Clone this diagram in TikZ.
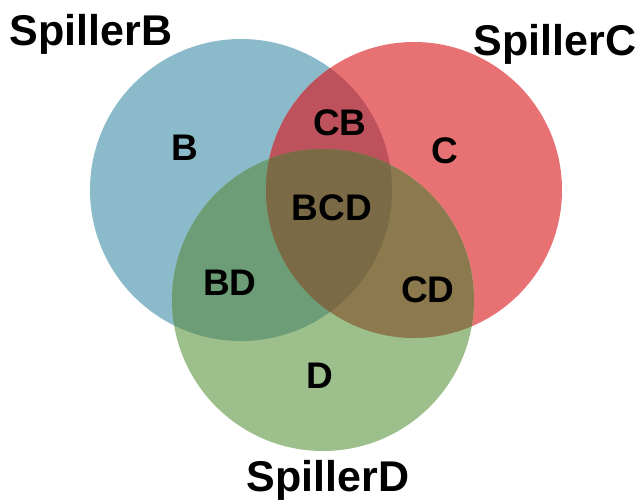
\documentclass[tikz,border=0pt]{standalone}
\usepackage{fontspec}
\setmainfont{Liberation Sans}

\definecolor{setB}{RGB}{139,186,202}
\definecolor{setC}{RGB}{232,114,115}
\definecolor{setD}{RGB}{157,191,139}
\definecolor{setCB}{RGB}{190,82,92}
\definecolor{setBD}{RGB}{108,157,118}
\definecolor{setCD}{RGB}{140,122,78}
\definecolor{setBCD}{RGB}{122,106,70}

% the three sets
\def\circB{(241,190) circle[radius=151]}
\def\circC{(414,190) circle[radius=148]}
\def\circD{(323,300) circle[radius=151]}

\begin{document}
\begin{tikzpicture}[x=1pt,y=-1pt,
    region/.style={font=\fontsize{37}{40}\selectfont\bfseries,anchor=base},
    setname/.style={font=\fontsize{43}{46}\selectfont\bfseries,anchor=base}]
    \useasboundingbox (0,0) rectangle (638,501);

    \fill[setB] \circB;
    \fill[setC] \circC;
    \fill[setD] \circD;
    % overlaps
    \begin{scope}
      \clip \circB;
      \fill[setCB] \circC;
      \fill[setBD] \circD;
    \end{scope}
    \begin{scope}
      \clip \circC;
      \fill[setCD] \circD;
    \end{scope}
    \begin{scope}
      \clip \circB;
      \clip \circC;
      \fill[setBCD] \circD;
    \end{scope}

    \node[region] (b)   at (185,160) {B};
    \node[region] (c)   at (445,163) {C};
    \node[region] (cb)  at (340,135) {CB};
    \node[region] (bcd) at (332,220) {BCD};
    \node[region] (bd)  at (230,295) {BD};
    \node[region] (cd)  at (428,302) {CD};
    \node[region] (d)   at (320,388) {D};

    \node[setname] (nameB) at (91,45)  {SpillerB};
    \node[setname] (nameC) at (555,55) {SpillerC};
    \node[setname] (nameD) at (328,491) {SpillerD};
\end{tikzpicture}
\end{document}
